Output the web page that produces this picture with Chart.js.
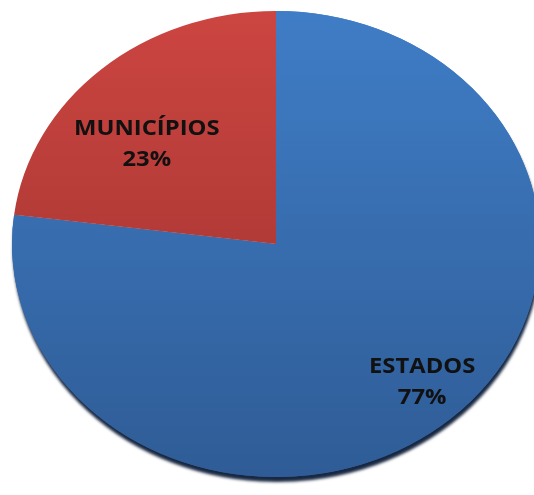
<!DOCTYPE html>
<html>
<head>
<meta charset="utf-8">
<script src="https://cdn.jsdelivr.net/npm/chart.js@4/dist/chart.umd.min.js"></script>
<style>
  html, body { margin: 0; padding: 0; background: #ffffff; }
  #wrap { width: 534px; height: 495px; position: relative; }
</style>
</head>
<body>
<div id="wrap"><canvas id="c" width="534" height="495"></canvas></div>
<script>
// ---- data ----
const categories = ["ESTADOS", "MUNICÍPIOS"];
const shares = [77, 23];
const percentLabels = ["77%", "23%"];

// ---- styling / geometry (not data) ----
const SX = 1.133;            // horizontal stretch of the (elliptical) pie
const labelTweak = [         // [extra angle (rad), radial fraction] per slice
  [-0.03, 0.81],
  [-0.13, 0.65]
];

function grad(chart, top, bottom) {
  const a = chart.chartArea;
  if (!a) return top;
  const g = chart.ctx.createLinearGradient(0, a.top, 0, a.bottom);
  g.addColorStop(0, top);
  g.addColorStop(1, bottom);
  return g;
}

const ellipsePlugin = {
  id: 'ellipse',
  beforeDatasetsDraw(chart) {
    const c = chart.ctx;
    const arcs = chart.getDatasetMeta(0).data;
    const m = arcs[0];
    c.save();
    c.translate(m.x, m.y);
    c.scale(SX, 1);
    c.translate(-m.x, -m.y);
    // shadow pass for the large slice
    c.save();
    c.shadowColor = 'rgba(12,28,55,0.95)';
    c.shadowBlur = 3;
    c.shadowOffsetX = 1;
    c.shadowOffsetY = 5;
    arcs[0].draw(c);
    c.restore();
  },
  afterDatasetsDraw(chart) {
    chart.ctx.restore();
  },
  afterDraw(chart) {
    const c = chart.ctx;
    const arcs = chart.getDatasetMeta(0).data;
    arcs.forEach((arc, i) => {
      const mid = (arc.startAngle + arc.endAngle) / 2 + labelTweak[i][0];
      const r = arc.outerRadius * labelTweak[i][1];
      const x = arc.x + Math.cos(mid) * r * SX;
      const y = arc.y + Math.sin(mid) * r;
      c.save();
      c.translate(x, y);
      c.scale(SX, 1);
      c.fillStyle = '#111111';
      c.font = 'bold 21px "Open Sans"';
      c.textAlign = 'center';
      c.textBaseline = 'middle';
      c.fillText(categories[i], 0, -15);
      c.fillText(percentLabels[i], 0, 16);
      c.restore();
    });
  }
};

new Chart(document.getElementById('c'), {
  type: 'pie',
  data: {
    labels: categories,
    datasets: [{
      data: shares,
      backgroundColor: (ctx) => ctx.dataIndex === 0
        ? grad(ctx.chart, '#3f7dc6', '#2f5c96')
        : grad(ctx.chart, '#cc4541', '#98302c'),
      borderWidth: 0,
      clip: false
    }]
  },
  options: {
    responsive: false,
    animation: false,
    layout: { padding: { top: 11, bottom: 18, left: 43, right: 25 } },
    plugins: {
      legend: { display: false },
      tooltip: { enabled: false }
    }
  },
  plugins: [ellipsePlugin]
});
</script>
</body>
</html>
